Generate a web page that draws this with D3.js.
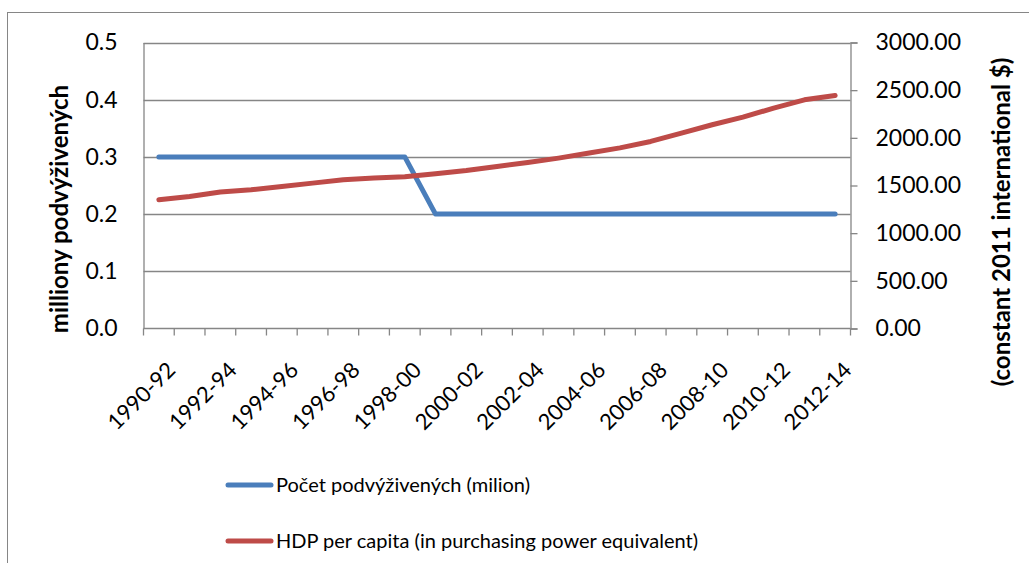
<!DOCTYPE html>
<html>
<head>
<meta charset="utf-8">
<script src="https://cdn.jsdelivr.net/npm/d3@7"></script>
<style>
	body { margin: 0; background: #fff; }
	svg { display: block; font-family: Lato, "Open Sans", sans-serif; }
</style>
</head>
<body>
<svg id="chart"></svg>
<script>
// Categories (3-year periods)
const periods = [
	"1990-92", "1991-93", "1992-94", "1993-95", "1994-96", "1995-97", "1996-98",
	"1997-99", "1998-00", "1999-01", "2000-02", "2001-03", "2002-04", "2003-05",
	"2004-06", "2005-07", "2006-08", "2007-09", "2008-10", "2009-11", "2010-12",
	"2011-13", "2012-14"
];

// Number of undernourished (millions) - left axis
const undernourished = [
	0.3, 0.3, 0.3, 0.3, 0.3, 0.3, 0.3, 0.3, 0.3, 0.2, 0.2, 0.2,
	0.2, 0.2, 0.2, 0.2, 0.2, 0.2, 0.2, 0.2, 0.2, 0.2, 0.2
];

// GDP per capita (PPP, constant 2011 intl $) - right axis
const gdpPerCapita = [
	1350, 1385, 1432, 1455, 1490, 1525, 1560, 1578, 1592, 1623, 1657, 1700,
	1741, 1787, 1840, 1895, 1962, 2049, 2137, 2217, 2312, 2399, 2444
];

const leftTicks = [0, 0.1, 0.2, 0.3, 0.4, 0.5];
const rightTicks = [0, 500, 1000, 1500, 2000, 2500, 3000];

const seriesNames = [
	"Počet podvýživených (milion)",
	"HDP per capita (in purchasing power equivalent)"
];

const width = 1029;
const height = 563;
const plot = { left: 143.5, right: 850.5, top: 42.5, bottom: 328.5 };
const gridColor = "#868686";
const blue = "#4A7EBB";
const red = "#BE4B48";

const svg = d3.select("#chart")
	.attr("width", width)
	.attr("height", height);

// Chart border
svg.append("rect")
	.attr("x", 7.5)
	.attr("y", 12.5)
	.attr("width", 1030)
	.attr("height", 600)
	.attr("fill", "none")
	.attr("stroke", gridColor)
	.attr("stroke-width", 1);

// Scales
const x = d3.scaleBand()
	.domain(periods)
	.range([plot.left, plot.right])
	.padding(0);

const yLeft = d3.scaleLinear()
	.domain([0, 0.5])
	.range([plot.bottom, plot.top]);

const yRight = d3.scaleLinear()
	.domain([0, 3000])
	.range([plot.bottom, plot.top]);

const cx = (d) => x(d) + x.bandwidth() / 2;

// Gridlines
svg.append("g")
	.selectAll("line")
	.data(leftTicks.slice(1))
	.join("line")
	.attr("x1", plot.left)
	.attr("x2", plot.right)
	.attr("y1", (d) => Math.round(yLeft(d)) + 0.5)
	.attr("y2", (d) => Math.round(yLeft(d)) + 0.5)
	.attr("stroke", gridColor)
	.attr("stroke-width", 1.3);

// Left axis
const leftAxis = svg.append("g")
	.attr("transform", `translate(${plot.left},0)`)
	.call(d3.axisLeft(yLeft).tickValues(leftTicks).tickFormat(d3.format(".1f")).tickSize(0).tickPadding(26));
leftAxis.select(".domain").attr("stroke", gridColor).attr("stroke-width", 1.3);
leftAxis.selectAll("text")
	.attr("font-size", 23)
	.attr("fill", "#000")
	.attr("font-family", "Lato");

// Right axis
const rightAxis = svg.append("g")
	.attr("transform", `translate(${plot.right},0)`)
	.call(d3.axisRight(yRight).tickValues(rightTicks).tickFormat(d3.format(".2f")).tickSize(7).tickPadding(18));
rightAxis.select(".domain").attr("stroke", gridColor).attr("stroke-width", 1.3);
rightAxis.selectAll(".tick line").attr("stroke", gridColor).attr("stroke-width", 1.3);
rightAxis.selectAll("text")
	.attr("font-size", 23)
	.attr("fill", "#000")
	.attr("font-family", "Lato");

// Bottom axis
const bottomAxis = svg.append("g")
	.attr("transform", `translate(0,${plot.bottom})`);
bottomAxis.append("line")
	.attr("x1", plot.left)
	.attr("x2", plot.right)
	.attr("stroke", gridColor)
	.attr("stroke-width", 1.3);
bottomAxis.selectAll(".tk")
	.data(periods.concat([null]))
	.join("line")
	.attr("class", "tk")
	.attr("x1", (d, i) => plot.left + i * x.bandwidth())
	.attr("x2", (d, i) => plot.left + i * x.bandwidth())
	.attr("y1", 0)
	.attr("y2", 7)
	.attr("stroke", gridColor)
	.attr("stroke-width", 1.3);
bottomAxis.selectAll("text")
	.data(periods.filter((d, i) => i % 2 === 0))
	.join("text")
	.attr("transform", (d) => `translate(${cx(d) + 7},${32}) rotate(-45)`)
	.attr("text-anchor", "end")
	.attr("dy", "0.7em")
	.attr("font-size", 22)
	.attr("fill", "#000")
	.text((d) => d);

// Axis titles
svg.append("text")
	.attr("transform", "translate(68,209) rotate(-90)")
	.attr("text-anchor", "middle")
	.attr("font-size", 24)
	.attr("font-weight", "bold")
	.text("milliony podvýživených");

svg.append("text")
	.attr("transform", "translate(1010,222) rotate(-90)")
	.attr("text-anchor", "middle")
	.attr("font-size", 24)
	.attr("font-weight", "bold")
	.text("(constant 2011 international $)");

// Lines
const lineLeft = d3.line()
	.x((d, i) => cx(periods[i]))
	.y((d) => yLeft(d));

const lineRight = d3.line()
	.x((d, i) => cx(periods[i]))
	.y((d) => yRight(d));

svg.append("path")
	.datum(undernourished)
	.attr("d", lineLeft)
	.attr("fill", "none")
	.attr("stroke", blue)
	.attr("stroke-width", 5)
	.attr("stroke-linecap", "round")
	.attr("stroke-linejoin", "round");

svg.append("path")
	.datum(gdpPerCapita)
	.attr("d", lineRight)
	.attr("fill", "none")
	.attr("stroke", red)
	.attr("stroke-width", 5)
	.attr("stroke-linecap", "round")
	.attr("stroke-linejoin", "round");

// Legend
const legend = svg.append("g")
	.selectAll("g")
	.data(seriesNames)
	.join("g")
	.attr("transform", (d, i) => `translate(228,${485 + i * 56})`);

legend.append("line")
	.attr("x1", 0)
	.attr("x2", 43)
	.attr("stroke", (d, i) => [blue, red][i])
	.attr("stroke-width", 5)
	.attr("stroke-linecap", "round");

legend.append("text")
	.attr("x", 48)
	.attr("dy", "0.37em")
	.attr("font-size", 20)
	.attr("fill", "#000")
	.text((d) => d);
</script>
</body>
</html>
